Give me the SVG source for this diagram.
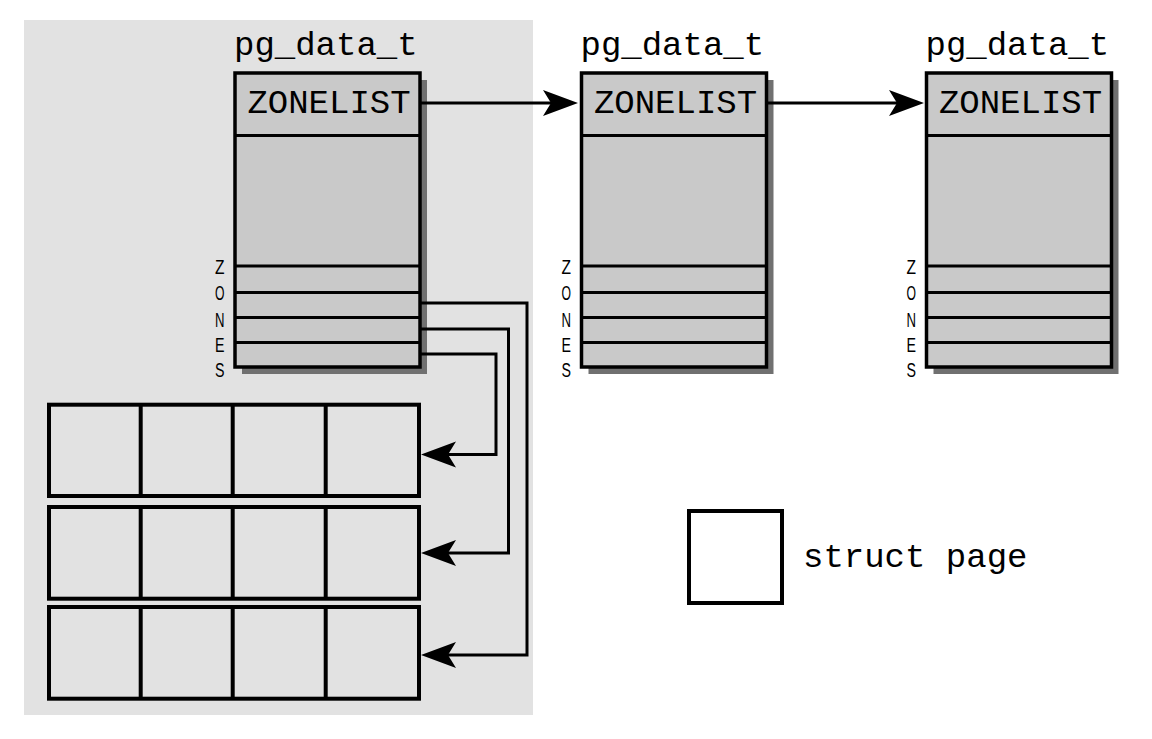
<svg xmlns="http://www.w3.org/2000/svg" width="1152" height="739" viewBox="0 0 1152 739">
  <style>
    .title { font-family: "Liberation Mono", "Courier New", monospace; font-size: 34px; fill: #000; }
    .zl { font-family: "Liberation Mono", "Courier New", monospace; font-size: 34px; fill: #000; text-anchor: middle; }
    .zs { font-family: "Liberation Sans", Arial, sans-serif; font-size: 20px; fill: #000; }
    .shadow { fill: #707070; }
    .box { fill: #c9c9c9; stroke: #000; stroke-width: 3.5; }
    .div { stroke: #000; stroke-width: 3; }
    .page { fill: #e2e2e2; stroke: #000; stroke-width: 4; }
    .cell { stroke: #000; stroke-width: 4; }
    .wire { fill: none; stroke: #000; stroke-width: 3; }
  </style>
  <defs>
    <marker id="ah" viewBox="-26 -14 37 28" refX="0" refY="0" markerWidth="37" markerHeight="28" markerUnits="userSpaceOnUse" orient="auto">
      <path d="M10,0 L-25,-13 L-17,0 L-25,13 Z" fill="#000"/>
    </marker>
    <!-- one pg_data_t record, drawn at the origin -->
    <g id="pgdata">
      <rect class="shadow" x="7" y="7" width="185" height="294"/>
      <rect class="box" x="0" y="0" width="185" height="294"/>
      <line class="div" x1="0" y1="62.5" x2="185" y2="62.5"/>
      <line class="div" x1="0" y1="193" x2="185" y2="193"/>
      <line class="div" x1="0" y1="219.5" x2="185" y2="219.5"/>
      <line class="div" x1="0" y1="244.5" x2="185" y2="244.5"/>
      <line class="div" x1="0" y1="269.5" x2="185" y2="269.5"/>
      <text class="title" x="-1" y="-18">pg_data_t</text>
      <text class="zl" x="94" y="40">ZONELIST</text>
      <!-- vertical "ZONES" caption, letters narrowed -->
      <text class="zs" x="-20" y="200.5" textLength="9.5" lengthAdjust="spacingAndGlyphs">Z</text>
      <text class="zs" x="-20" y="227" textLength="9.5" lengthAdjust="spacingAndGlyphs">O</text>
      <text class="zs" x="-20" y="253.5" textLength="9.5" lengthAdjust="spacingAndGlyphs">N</text>
      <text class="zs" x="-20" y="278.5" textLength="9.5" lengthAdjust="spacingAndGlyphs">E</text>
      <text class="zs" x="-20" y="304" textLength="9.5" lengthAdjust="spacingAndGlyphs">S</text>
    </g>
  </defs>

  <rect x="0" y="0" width="1152" height="739" fill="#fff"/>

  <!-- shaded area holding the first node and its page arrays -->
  <rect id="panel" x="24" y="20" width="509" height="695" fill="#e2e2e2"/>

  <g id="node1">
    <use href="#pgdata" transform="translate(235,73)"/>
  </g>
  <g id="node2">
    <use href="#pgdata" transform="translate(581.5,73)"/>
  </g>
  <g id="node3">
    <use href="#pgdata" transform="translate(926.5,73)"/>
  </g>

  <g id="pages1">
    <rect class="page" x="49" y="404.7" width="370" height="91.3"/>
    <line class="cell" x1="140.7" y1="404.7" x2="140.7" y2="496"/>
    <line class="cell" x1="232.7" y1="404.7" x2="232.7" y2="496"/>
    <line class="cell" x1="325.7" y1="404.7" x2="325.7" y2="496"/>
  </g>
  <g id="pages2">
    <rect class="page" x="49" y="507" width="370" height="91.7"/>
    <line class="cell" x1="140.7" y1="507" x2="140.7" y2="598.7"/>
    <line class="cell" x1="232.7" y1="507" x2="232.7" y2="598.7"/>
    <line class="cell" x1="325.7" y1="507" x2="325.7" y2="598.7"/>
  </g>
  <g id="pages3">
    <rect class="page" x="49" y="607" width="370" height="91.7"/>
    <line class="cell" x1="140.7" y1="607" x2="140.7" y2="698.7"/>
    <line class="cell" x1="232.7" y1="607" x2="232.7" y2="698.7"/>
    <line class="cell" x1="325.7" y1="607" x2="325.7" y2="698.7"/>
  </g>

  <g id="legend">
    <rect x="689" y="511" width="93" height="92" fill="#fff" stroke="#000" stroke-width="4"/>
    <text class="title" x="803" y="567">struct page</text>
  </g>

  <g id="connectors">
    <path class="wire" d="M420,103 H568" marker-end="url(#ah)"/>
    <path class="wire" d="M766,103 H914" marker-end="url(#ah)"/>
    <path class="wire" d="M420,303 H527 V655 H431" marker-end="url(#ah)"/>
    <path class="wire" d="M420,329 H508.5 V553 H431" marker-end="url(#ah)"/>
    <path class="wire" d="M420,354 H496 V454.5 H431" marker-end="url(#ah)"/>
  </g>
</svg>
